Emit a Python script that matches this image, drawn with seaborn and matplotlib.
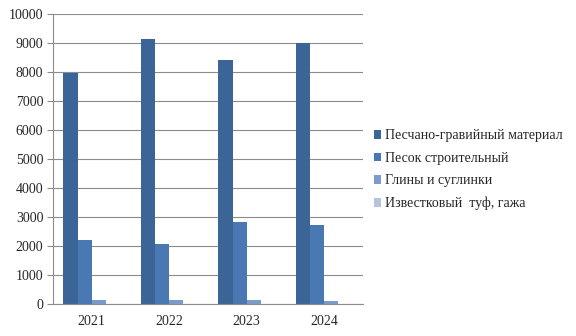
import matplotlib
matplotlib.use("Agg")
import matplotlib.pyplot as plt
import seaborn as sns
import pandas as pd

years = ["2021", "2022", "2023", "2024"]
series = ["Песчано-гравийный материал", "Песок строительный",
          "Глины и суглинки", "Известковый  туф, гажа"]
values = {
    "Песчано-гравийный материал": [7980, 9140, 8420, 9000],
    "Песок строительный": [2210, 2070, 2840, 2730],
    "Глины и суглинки": [150, 150, 150, 110],
    "Известковый  туф, гажа": [0, 0, 0, 0],
}
colors = ["#3B6597", "#4A78B2", "#7B9BCB", "#B3C4DF"]
yticks = [0, 1000, 2000, 3000, 4000, 5000, 6000, 7000, 8000, 9000, 10000]

rows = []
for s in series:
    for y, v in zip(years, values[s]):
        rows.append({"year": y, "series": s, "value": v})
df = pd.DataFrame(rows)

sns.set_theme(style="white")
plt.rcParams["font.family"] = ["Liberation Serif", "DejaVu Serif"]

fig = plt.figure(figsize=(5.76, 3.36), dpi=100)
ax = fig.add_axes([0.092, 0.095, 0.538, 0.863])
sns.barplot(data=df, x="year", y="value", hue="series", hue_order=series,
            palette=colors, width=0.73, saturation=1, ax=ax, legend=True,
            edgecolor="none", linewidth=0)

ax.set_xlim(-0.5, 3.5)
ax.set_ylim(0, 10000)
ax.set_yticks(yticks)
ax.set_yticklabels([str(t) for t in yticks], fontsize=10)
ax.yaxis.grid(True, color="#8c8c8c", linewidth=0.8)
ax.set_axisbelow(True)
ax.set_xlabel("")
ax.set_ylabel("")

ax.set_xticks(range(len(years)))
ax.set_xticklabels(years, fontsize=10)
ax.set_xticks([-0.5, 0.5, 1.5, 2.5, 3.5], minor=True)
ax.tick_params(axis="x", which="major", length=0, pad=8)
ax.tick_params(axis="x", which="minor", length=4, color="#8c8c8c", width=0.8)
ax.tick_params(axis="y", which="major", length=4, color="#8c8c8c", width=0.8,
               left=True, pad=3)

for side in ["top", "right"]:
    ax.spines[side].set_visible(False)
for side in ["left", "bottom"]:
    ax.spines[side].set_color("#8c8c8c")
    ax.spines[side].set_linewidth(0.8)

handles, labels = ax.get_legend_handles_labels()
ax.get_legend().remove()
fig.legend(handles, labels, loc="upper left", bbox_to_anchor=(0.627, 0.652),
           frameon=False, fontsize=10, handlelength=0.55, handleheight=0.55,
           handletextpad=0.3, labelspacing=0.68)

fig.savefig("out.png", dpi=100)
